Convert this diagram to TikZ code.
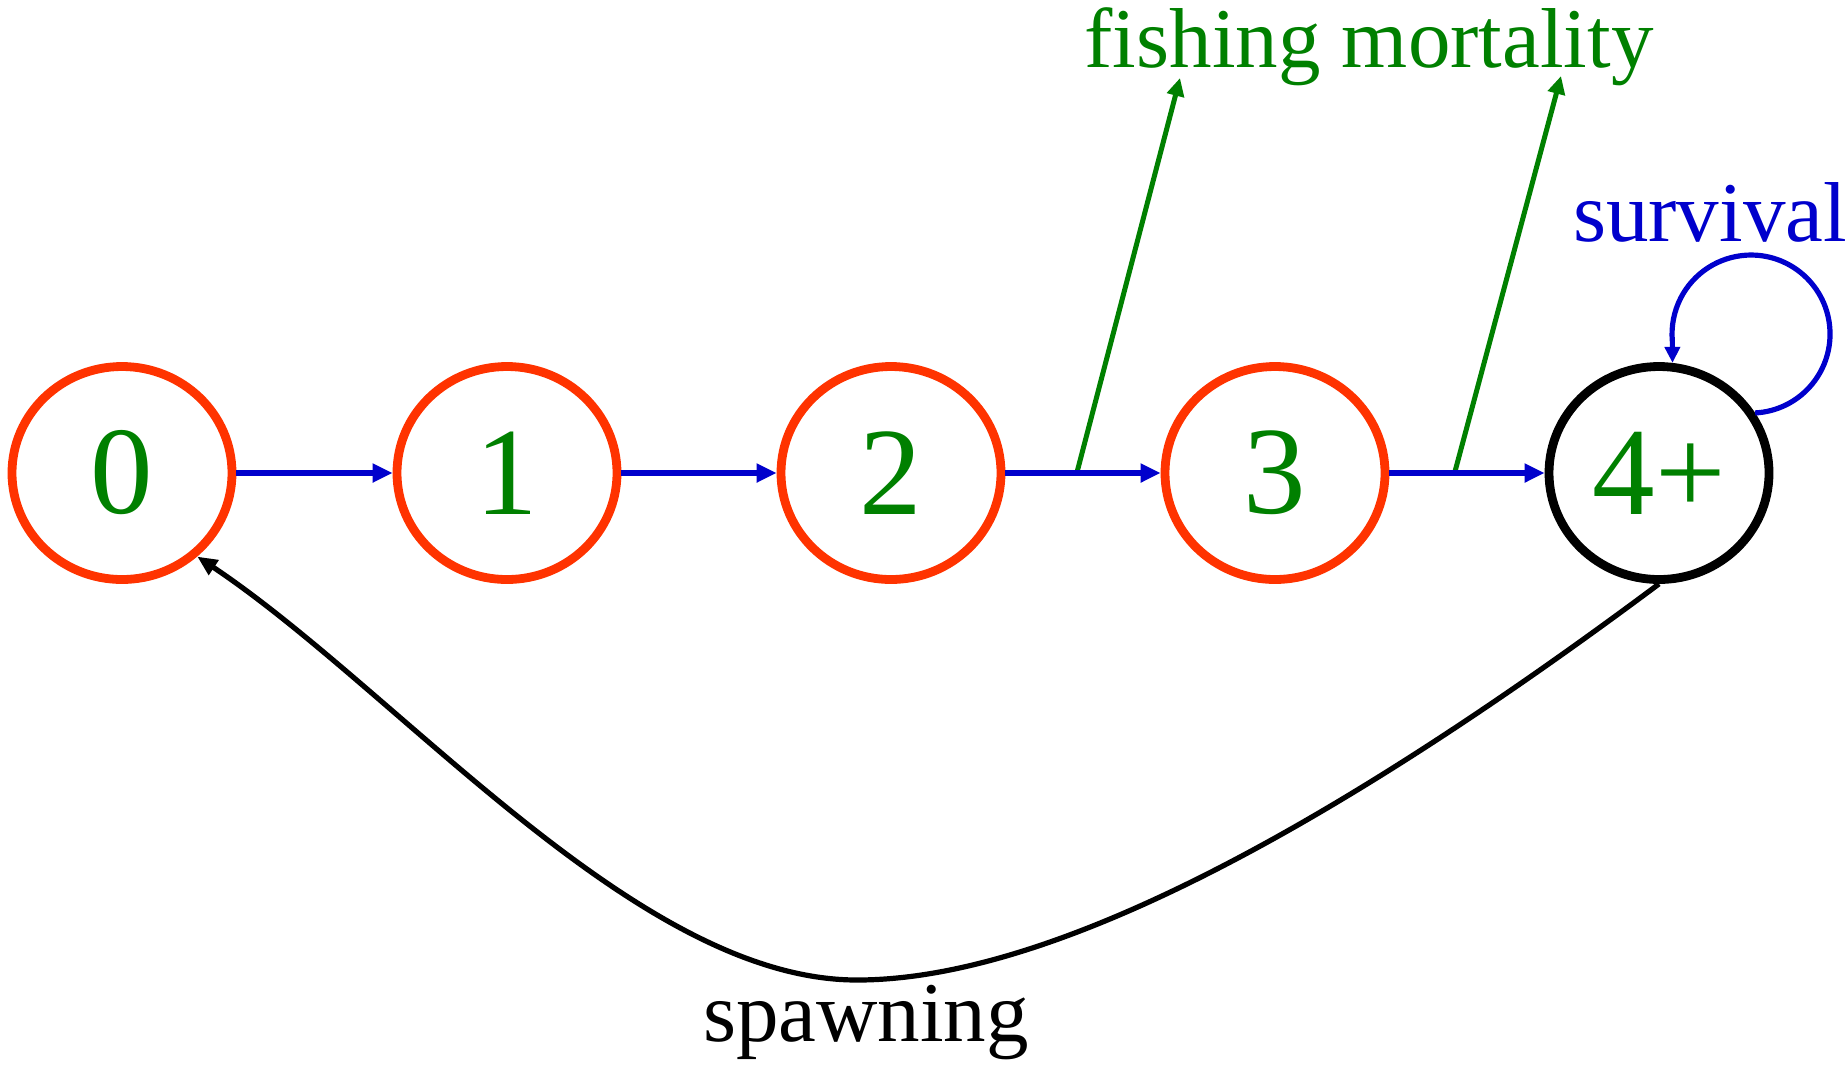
\documentclass[tikz,border=0pt]{standalone}
\usepackage{fontspec}
\setmainfont{Liberation Serif}
\usetikzlibrary{arrows.meta,shapes.geometric,calc}
\definecolor{ringred}{RGB}{255,51,0}
\definecolor{txtgreen}{RGB}{0,128,0}
\definecolor{arrblue}{RGB}{0,0,204}
\begin{document}
\begin{tikzpicture}[x=0.5pt,y=-0.5pt,
  age/.style={ellipse, draw=ringred, line width=4.4pt, minimum width=110pt, minimum height=106.5pt, inner sep=0pt, text=txtgreen, font=\fontsize{62.5}{70}\selectfont},
  plusage/.style={age, draw=black},
  flow/.style={draw=arrblue, line width=3pt, -{Triangle[length=10pt,width=9pt]}},
  fish/.style={draw=txtgreen, line width=2.5pt, -{Triangle[length=9pt,width=8.5pt]}},
  loopy/.style={draw=arrblue, line width=2.6pt, -{Triangle[length=8pt,width=7.5pt]}},
  spawn/.style={draw=black, line width=2.6pt, -{Triangle[length=10pt,width=8.5pt]}},
  lbl/.style={font=\fontsize{42.5}{48}\selectfont, inner sep=0pt, anchor=base}
]
\useasboundingbox (0,0) rectangle (1845,1067);
\node[age] (c0) at (122,473) {0};
\node[age] (c1) at (507,473) {1};
\node[age] (c2) at (891,473) {2};
\node[age] (c3) at (1275,473) {3};
\node[plusage] (c4) at (1659,473) {4+};

\node[lbl, text=txtgreen] (fm) at (1369,67) {fishing mortality};
\node[lbl, text=arrblue] (sv) at (1710,241) {survival};
\node[lbl, text=black] (sp) at (866,1041) {spawning};

\coordinate (f1s) at ($(c2.east)!0.46!(c3.west)$);
\coordinate (f2s) at ($(c3.east)!0.42!(c4.west)$);
\coordinate (f1t) at (1180,78);
\coordinate (f2t) at (1561,76);
\draw[fish] (f1s) -- (f1t);
\draw[fish] (f2s) -- (f2t);

\draw[flow] (c0.east) -- (c1.west);
\draw[flow] (c1.east) -- (c2.west);
\draw[flow] (c2.east) -- (c3.west);
\draw[flow] (c3.east) -- (c4.west);

\draw[loopy] (c4.32) arc[start angle=-87, end angle=185, radius=39.5pt] -- (c4.83);

\coordinate (low) at (857,980);
\draw[spawn] (c4.south) .. controls (1305,848) and (1038,980) .. (low)
  .. controls (637,980) and (400,692) .. (c0.-48);
\end{tikzpicture}
\end{document}
